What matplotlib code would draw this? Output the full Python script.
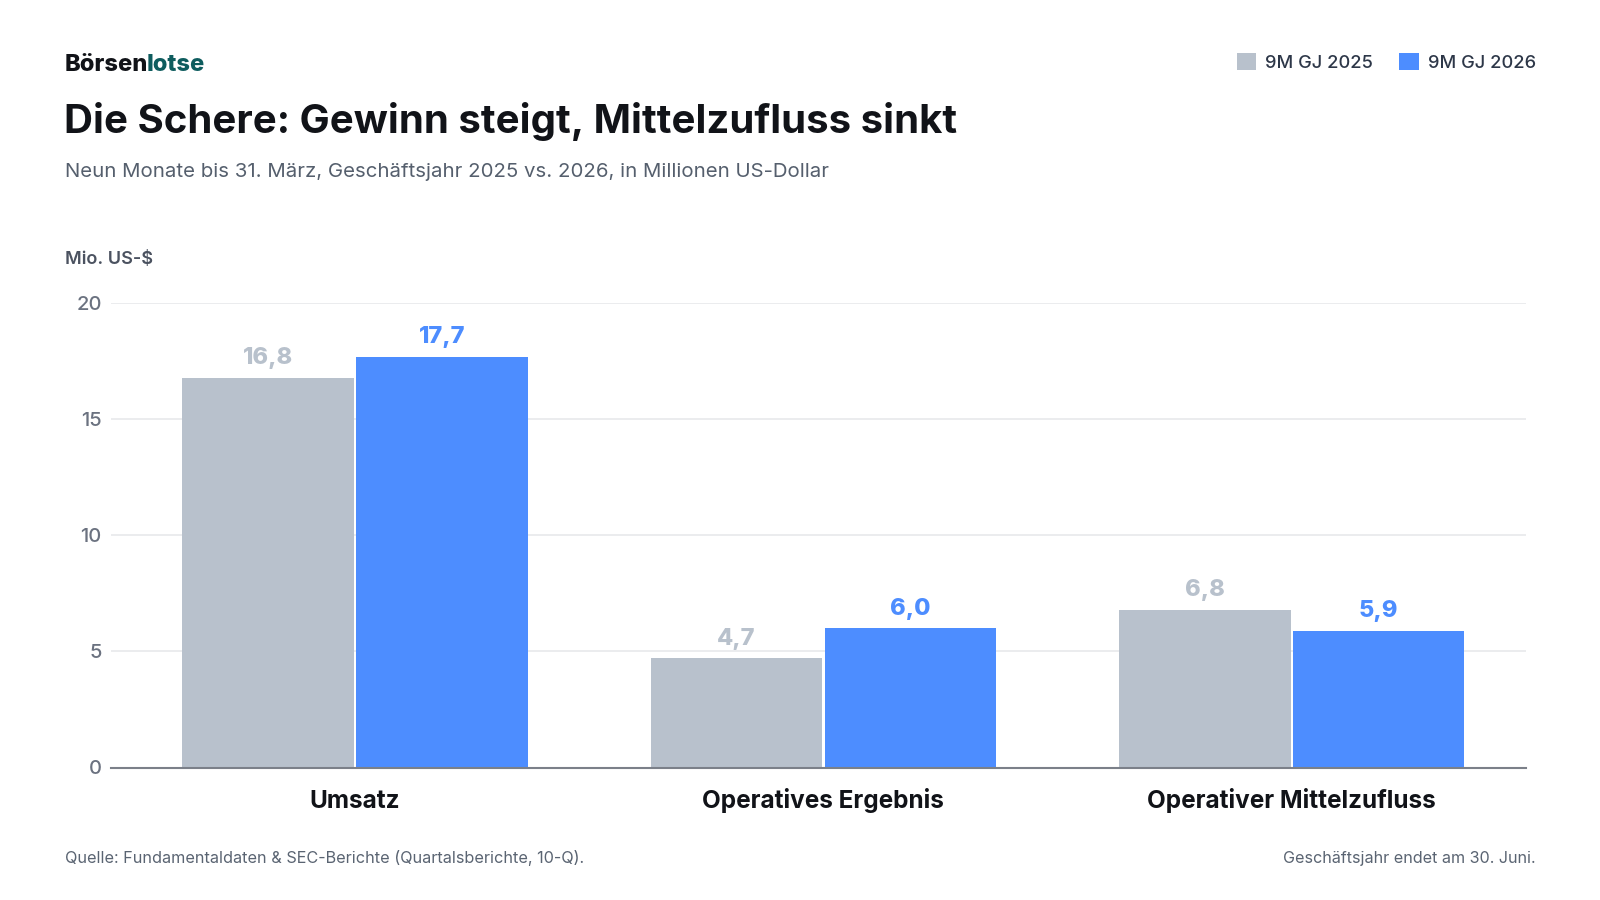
import matplotlib
matplotlib.use("Agg")
import matplotlib.pyplot as plt
from matplotlib.patches import Patch
import numpy as np

plt.rcParams['font.family'] = ['Inter', 'DejaVu Sans']

categories = ["Umsatz", "Operatives Ergebnis", "Operativer Mittelzufluss"]
series_names = ["9M GJ 2025", "9M GJ 2026"]
values_2025 = [16.8, 4.7, 6.8]
values_2026 = [17.7, 6.0, 5.9]
y_ticks = [0, 5, 10, 15, 20]

gray = "#b8c1cc"
blue = "#4d8dff"

W, H = 1600, 900
fig = plt.figure(figsize=(16, 9), dpi=100)
ax = fig.add_axes([111 / W, 1 - 767.5 / H, (1526 - 111) / W, (767.5 - 303.3) / H])

x = np.arange(len(categories))
bw = 0.366
off = 0.1855
b1 = ax.bar(x - off, values_2025, bw, color=gray, zorder=3)
b2 = ax.bar(x + off, values_2026, bw, color=blue, zorder=3)

for bars, vals, col in [(b1, values_2025, gray), (b2, values_2026, blue)]:
    for rect, v in zip(bars, vals):
        ax.annotate(f"{v:.1f}".replace(".", ","),
                    xy=(rect.get_x() + rect.get_width() / 2, v),
                    xytext=(0, 9.8), textcoords="offset points",
                    ha="center", va="baseline", fontsize=17, fontweight="heavy",
                    color=col)

for i, c in enumerate(categories):
    ax.annotate(c, xy=(i, 0), xycoords=("data", "axes fraction"),
                xytext=(0, -29), textcoords="offset points",
                ha="center", va="baseline", fontsize=17.5, fontweight="bold",
                color="#111318")

ax.set_xlim(-0.521, 2.5)
ax.set_ylim(0, 20)
ax.set_yticks(y_ticks)
ax.set_yticklabels([str(t) for t in y_ticks])
ax.set_xticks([])
ax.tick_params(axis="y", length=0, pad=6.7, labelsize=14.5, labelcolor="#6b7280")
for lbl in ax.get_yticklabels():
    lbl.set_fontweight("medium")
ax.grid(axis="y", color="#e6e7ea", linewidth=1.1, zorder=0)
for s in ["top", "right", "left"]:
    ax.spines[s].set_visible(False)
ax.spines["bottom"].set_color("#7b8089")
ax.spines["bottom"].set_linewidth(1.5)
ax.spines["bottom"].set_zorder(4)

# header
t1 = fig.text(65 / W, 1 - 70.7 / H, "Börsen", fontsize=17, fontweight="heavy",
              color="#111318", va="baseline", ha="left")
ax.annotate("lotse", xy=(1, 0), xycoords=t1, xytext=(-1.5, 0),
            textcoords="offset points", fontsize=17, fontweight="heavy",
            color="#0e5c5e", va="bottom", ha="left", annotation_clip=False)

fig.text(64 / W, 1 - 133 / H, "Die Schere: Gewinn steigt, Mittelzufluss sinkt",
         fontsize=28.9, fontweight="bold", color="#111318", va="baseline", ha="left")
fig.text(65 / W, 1 - 176.7 / H,
         "Neun Monate bis 31. März, Geschäftsjahr 2025 vs. 2026, in Millionen US-Dollar",
         fontsize=14.7, color="#555f6d", va="baseline", ha="left")
fig.text(65 / W, 1 - 264 / H, "Mio. US-$", fontsize=13, fontweight="semibold",
         color="#4b5260", va="baseline", ha="left")

handles = [Patch(facecolor=gray, label=series_names[0]),
           Patch(facecolor=blue, label=series_names[1])]
leg = fig.legend(handles=handles, loc="center right", ncol=2, frameon=False,
                 bbox_to_anchor=(1536 / W, 1 - 62.5 / H), handlelength=1.05,
                 handleheight=1.05, handletextpad=0.5, columnspacing=1.45,
                 borderpad=0, borderaxespad=0, prop={"size": 13.2, "weight": "medium"})
for t in leg.get_texts():
    t.set_color("#2d3748")

# footer
fig.text(65 / W, 1 - 862.7 / H,
         "Quelle: Fundamentaldaten & SEC-Berichte (Quartalsberichte, 10-Q).",
         fontsize=11.7, color="#5a6472", va="baseline", ha="left")
fig.text(1535.5 / W, 1 - 862.7 / H, "Geschäftsjahr endet am 30. Juni.",
         fontsize=11.6, color="#5a6472", va="baseline", ha="right")

fig.savefig("out.png", dpi=100, facecolor="white")
